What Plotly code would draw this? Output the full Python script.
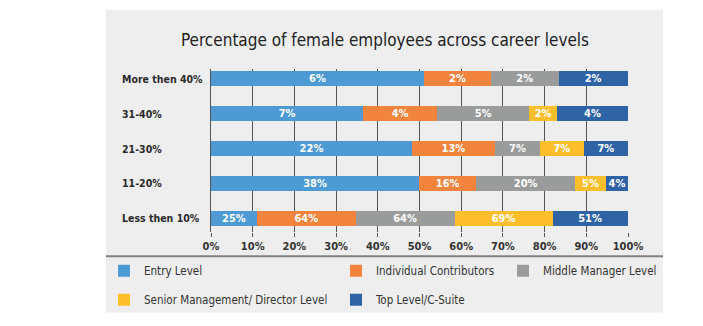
import plotly.graph_objects as go

categories = ["Less then 10%", "11-20%", "21-30%", "31-40%", "More then 40%"]
series_names = ["Entry Level", "Individual Contributors", "Middle Manager Level",
                "Senior Management/ Director Level", "Top Level/C-Suite"]
# segment shares of each bar (percent of full bar length)
entry = [11.0, 49.9, 48.2, 36.5, 51.1]
individual = [23.7, 13.7, 19.9, 17.7, 16.0]
middle = [23.7, 23.7, 10.8, 22.1, 16.3]
senior = [23.5, 7.4, 10.5, 6.7, None]
top = [18.0, 5.3, 10.6, 17.0, 16.5]
# printed labels
entry_lbl = ["25%", "38%", "22%", "7%", "6%"]
individual_lbl = ["64%", "16%", "13%", "4%", "2%"]
middle_lbl = ["64%", "20%", "7%", "5%", "2%"]
senior_lbl = ["69%", "5%", "7%", "2%", ""]
top_lbl = ["51%", "4%", "7%", "4%", "2%"]
x_ticks = [0, 10, 20, 30, 40, 50, 60, 70, 80, 90, 100]
x_tick_text = [f"{v}%" for v in x_ticks]

colors = ["#4E9AD5", "#F2843D", "#9A9C9B", "#FDBE2B", "#2E63A6"]
legend_ids = ["legend", "legend2", "legend3", "legend", "legend2"]
values = [entry, individual, middle, senior, top]
labels = [entry_lbl, individual_lbl, middle_lbl, senior_lbl, top_lbl]

W, H = 703, 326
L, R, T, B = 211, 75, 69, 89
PW, PH = W - L - R, H - T - B


def px(xp):
    return (xp - L) / PW


def py(yp):
    return (H - B - yp) / PH


FONT = "Liberation Sans Narrow, DejaVu Sans Condensed, Roboto, sans-serif"

fig = go.Figure()
for i, name in enumerate(series_names):
    fig.add_trace(go.Bar(
        y=categories, x=values[i], orientation="h", name=name,
        marker=dict(color=colors[i], line=dict(width=0)),
        text=labels[i], textposition="inside", insidetextanchor="middle",
        textangle=0, constraintext="none",
        textfont=dict(color="white", size=11, family=FONT, weight="bold"),
        legend=legend_ids[i], legendgroup=name, hoverinfo="skip",
    ))

shapes = [
    dict(type="rect", xref="paper", yref="paper", x0=px(106), x1=px(663),
         y0=py(320), y1=py(8), fillcolor="#EEEEEE", line=dict(width=0), layer="below"),
    dict(type="line", xref="paper", yref="paper", x0=px(106), x1=px(663),
         y0=py(262), y1=py(262), line=dict(color="#808080", width=2), layer="below"),
]

annotations = [
    dict(text=c, xref="paper", yref="y", x=px(120), y=c, xanchor="left",
         showarrow=False, font=dict(size=10.5, color="#2a2a2a", family=FONT, weight="bold"))
    for c in categories
]

leg_common = dict(orientation="v", bgcolor="rgba(0,0,0,0)", xanchor="left", yanchor="top",
                  font=dict(size=11.5, color="#333333", family=FONT),
                  tracegroupgap=10, itemclick=False)

fig.update_layout(
    width=W, height=H, margin=dict(l=L, r=R, t=T, b=B),
    paper_bgcolor="white", plot_bgcolor="rgba(0,0,0,0)",
    barmode="stack", bargap=0.58,
    title=dict(text="Percentage of female employees across career levels",
               xref="paper", x=px(385), xanchor="center", y=1 - 40 / H, yanchor="middle",
               font=dict(size=17, color="#222222", family=FONT)),
    xaxis=dict(range=[0, 100], tickvals=x_ticks, ticktext=x_tick_text,
               showgrid=True, gridcolor="#555555", gridwidth=1, zeroline=False,
               ticks="outside", ticklen=4, tickcolor="#555555",
               tickfont=dict(size=11, color="#333333", family=FONT, weight="bold"),
               fixedrange=True),
    yaxis=dict(categoryorder="array", categoryarray=categories, range=[-0.39, 4.28],
               showticklabels=False, showgrid=False, showline=True,
               linecolor="#555555", linewidth=1, zeroline=False, ticks=""),
    shapes=shapes, annotations=annotations,
    legend=dict(x=px(104), y=py(262), **leg_common),
    legend2=dict(x=px(336), y=py(262), **leg_common),
    legend3=dict(x=px(503), y=py(262), **leg_common),
    showlegend=True,
)

fig.write_html("out.html")
